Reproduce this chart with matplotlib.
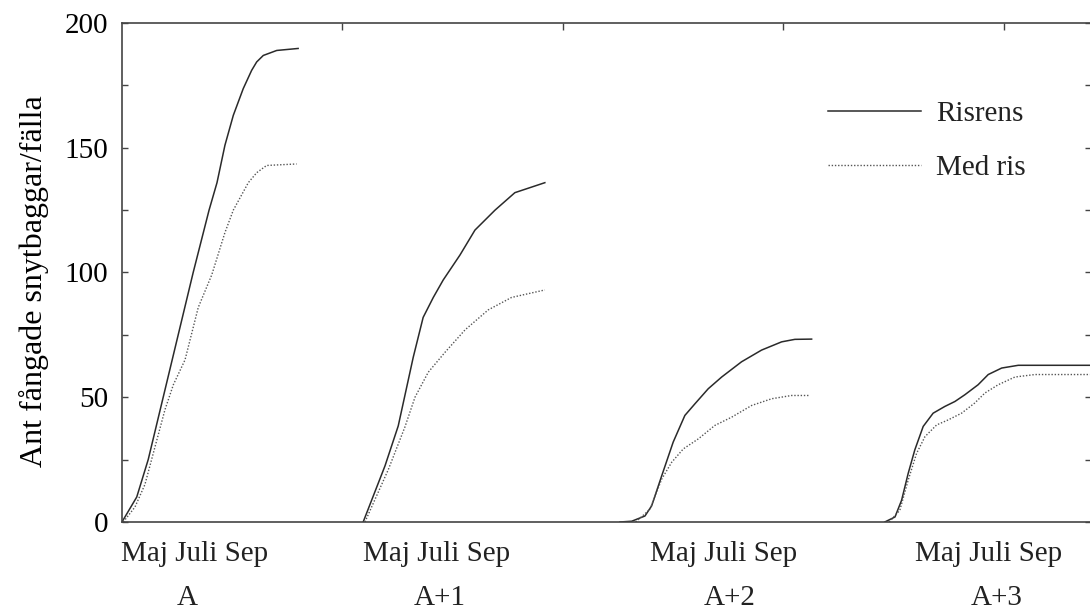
import numpy as np
import matplotlib.pyplot as plt
import matplotlib.transforms as mtransforms
from matplotlib.ticker import MultipleLocator

plt.rc('font', family='Liberation Serif', size=21)

# cumulative catch per trap
# x in arbitrary axis units (top tick every 10), one block per year
years = ['A', 'A+1', 'A+2', 'A+3']
months = 'Maj Juli Sep'

risrens_x = [
    [0.0, 0.67, 1.19, 1.87, 2.55, 3.23, 3.95, 4.31, 4.67, 5.05, 5.5, 5.88,
     6.11, 6.41, 7.02, 7.99],
    [10.94, 11.93, 12.53, 13.21, 13.66, 14.12, 14.57, 15.33, 16.01, 16.92,
     17.82, 19.18],
    [22.59, 23.12, 23.72, 24.02, 24.48, 25.0, 25.53, 25.99, 26.59, 27.2,
     28.1, 29.01, 29.92, 30.52, 31.28],
    [34.6, 35.06, 35.36, 35.66, 35.96, 36.34, 36.79, 37.32, 37.78, 38.23,
     38.83, 39.29, 39.9, 40.65, 43.9],
]
risrens_y = [
    [0, 10, 25, 50, 75, 100, 125, 136, 151, 163, 173.7, 181, 184.4, 187,
     189, 189.8],
    [0, 22.5, 38.5, 66, 82, 90, 97, 107, 117, 125, 132, 136],
    [0, 0.3, 2.4, 6.4, 18.5, 32, 42.7, 47.4, 53.4, 58.1, 64.2, 68.9, 72.2,
     73.2, 73.3],
    [0, 2, 8.7, 19.5, 28.9, 38.3, 43.6, 46.3, 48.3, 51, 55, 59.1, 61.7,
     62.8, 62.8],
]

medris_x = [
    [0.06, 0.59, 1.04, 1.95, 2.33, 2.86, 3.46, 4.07, 4.67, 5.05, 5.73, 6.11,
     6.56, 7.92],
    [11.02, 12.08, 12.83, 13.29, 13.89, 14.65, 15.56, 16.61, 17.67, 19.18],
    [23.3, 23.95, 24.48, 24.93, 25.46, 26.14, 26.89, 27.65, 28.56, 29.47,
     30.37, 31.2],
    [34.8, 35.28, 35.66, 36.04, 36.42, 36.95, 37.47, 38.08, 38.68, 39.14,
     39.74, 40.5, 41.41, 43.9],
]
medris_y = [
    [0, 6, 15, 45, 55, 65, 86, 99, 116, 125, 136, 140, 142.9, 143.5],
    [0, 21, 38, 50, 60, 68, 77, 85, 90, 93],
    [0, 5.1, 17.2, 23.9, 29.3, 33.3, 38.7, 42, 46.7, 49.4, 50.7, 50.7],
    [0, 4.7, 16.8, 27.5, 34.2, 38.9, 40.9, 43.6, 47.7, 51.7, 55, 58.1,
     59.1, 59.1],
]

# label placement (x in data units)
month_pos = [3.31, 14.29, 27.3, 39.32]
year_pos = [2.95, 14.42, 27.57, 39.68]

fig = plt.figure(figsize=(10.9, 6.12), dpi=100)
ax = fig.add_axes([0.1119, 0.1471, 0.889, 0.8153])

for i in range(len(years)):
    ax.plot(risrens_x[i], risrens_y[i], '-', color='#2a2a2a', lw=1.1,
            label='Risrens' if i == 0 else None)
    ax.plot(medris_x[i], medris_y[i], color='#555555', lw=1.0,
            ls=(0, (1, 1.3)), label='Med ris' if i == 0 else None)

ax.set_xlim(0, 43.95)
ax.set_ylim(0, 200)
ax.set_yticks([0, 50, 100, 150, 200])
ax.yaxis.set_minor_locator(MultipleLocator(25))
ax.set_xticks([10, 20, 30, 40])
ax.tick_params(axis='x', which='major', bottom=False, top=True,
               labelbottom=False, direction='in', length=5, width=1,
               color='#444444')
ax.tick_params(axis='y', which='both', left=True, right=True,
               direction='in', length=4, width=1, color='#444444')
ax.tick_params(axis='y', which='major', pad=10)
for sp in ax.spines.values():
    sp.set_color('#444444')
    sp.set_linewidth(1.2)

ax.set_ylabel('Ant fångade snytbaggar/fälla', fontsize=23)
ax.yaxis.set_label_coords(-0.075, 0.482)

# month / year labels under each block
trans = mtransforms.blended_transform_factory(ax.transData, ax.transAxes)
for i in range(len(years)):
    ax.text(month_pos[i], -0.064, months, transform=trans,
            ha='center', va='center', color='#222222')
    ax.text(year_pos[i], -0.153, years[i], transform=trans,
            ha='center', va='center', color='#222222')

leg = ax.legend(loc='upper left', bbox_to_anchor=(0.7286, 0.845),
                frameon=False, handlelength=3.2, handletextpad=0.5,
                labelspacing=0.95, borderpad=0, borderaxespad=0)
for t in leg.get_texts():
    t.set_color('#222222')

fig.savefig('out.png', dpi=100)
